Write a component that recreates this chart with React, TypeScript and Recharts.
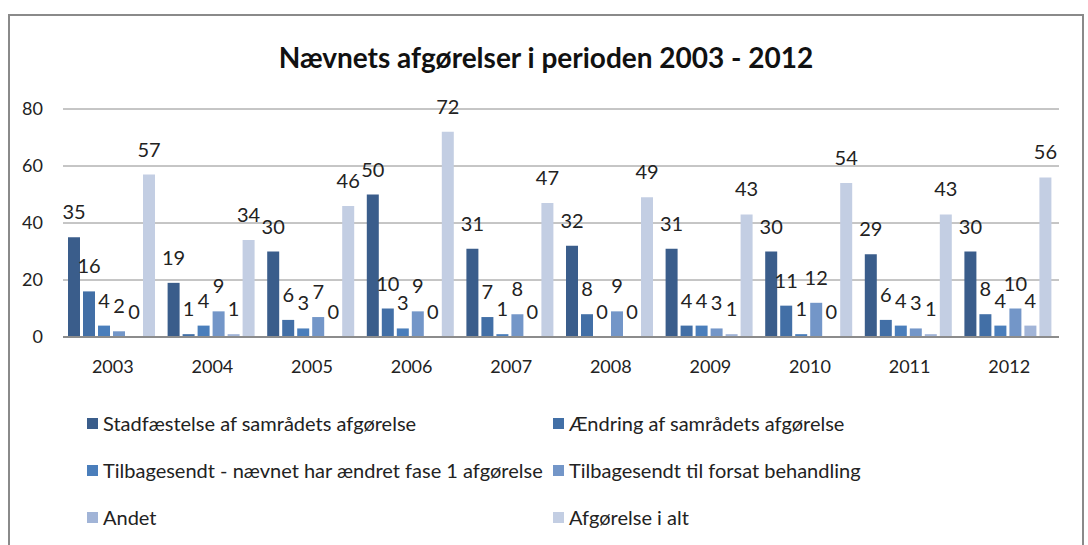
import React from "react";
import { Bar, BarChart, CartesianGrid, LabelList, XAxis, YAxis } from "recharts";

const years = ["2003", "2004", "2005", "2006", "2007", "2008", "2009", "2010", "2011", "2012"];

const stadfaestelse = [35, 19, 30, 50, 31, 32, 31, 30, 29, 30];
const aendring = [16, 1, 6, 10, 7, 8, 4, 11, 6, 8];
const tilbageFase1 = [4, 4, 3, 3, 1, 0, 4, 1, 4, 4];
const tilbageForsat = [2, 9, 7, 9, 8, 9, 3, 12, 3, 10];
const andet = [0, 1, 0, 0, 0, 0, 1, 0, 1, 4];
const iAlt = [57, 34, 46, 72, 47, 49, 43, 54, 43, 56];

const yTicks = [0, 20, 40, 60, 80];

const series = [
  { key: "s1", name: "Stadfæstelse af samrådets afgørelse", color: "#3a5d8b", values: stadfaestelse },
  { key: "s2", name: "Ændring af samrådets afgørelse", color: "#426fa6", values: aendring },
  { key: "s3", name: "Tilbagesendt - nævnet har ændret fase 1 afgørelse", color: "#4a7ebb", values: tilbageFase1 },
  { key: "s4", name: "Tilbagesendt til forsat behandling", color: "#7396c8", values: tilbageForsat },
  { key: "s5", name: "Andet", color: "#a1b4d7", values: andet },
  { key: "s6", name: "Afgørelse i alt", color: "#c3cee3", values: iAlt },
];

const data = years.map((year, i) => {
  const row: any = { year };
  series.forEach((s) => {
    row[s.key] = s.values[i];
  });
  return row;
});

const font = "Lato, 'Open Sans', sans-serif";

// value label drawn above each bar, also for zero-height bars
const BarValue = (props: any) => {
  const { x, y, width, value } = props;
  if (value == null) return null;
  return (
    <text x={x + width / 2} y={y - 18} textAnchor="middle" fontFamily={font} fontSize={20} fill="#222">
      {value}
    </text>
  );
};

function LegendBox() {
  return (
    <div
      style={{
        position: "absolute",
        left: 77,
        top: 395,
        display: "grid",
        gridTemplateColumns: "466px 420px",
        rowGap: 23,
        fontFamily: font,
        fontSize: 20,
        color: "#222",
      }}
    >
      {series.map((s) => (
        <div key={s.key} style={{ display: "flex", alignItems: "center", height: 24 }}>
          <span style={{ display: "inline-block", width: 11, height: 11, background: s.color, marginRight: 5 }} />
          <span>{s.name}</span>
        </div>
      ))}
    </div>
  );
}

export default function App() {
  return (
    <div
      style={{
        position: "absolute",
        left: 8,
        top: 14,
        width: 1072,
        height: 545,
        border: "2px solid #8a8a8a",
        background: "#fff",
      }}
    >
      <div
        style={{
          position: "absolute",
          left: 0,
          width: "100%",
          top: 24,
          textAlign: "center",
          fontFamily: font,
          fontWeight: 700,
          fontSize: 28,
          color: "#111",
        }}
      >
        Nævnets afgørelser i perioden 2003 - 2012
      </div>
      <BarChart
        width={1072}
        height={530}
        data={data}
        margin={{ top: 93, right: 23, left: 0, bottom: 169 }}
        barCategoryGap={5}
        barGap={3}
      >
        <CartesianGrid vertical={false} stroke="#8c8c8c" strokeWidth={1} />
        <XAxis
          dataKey="year"
          height={40}
          tickSize={0}
          tickMargin={23}
          axisLine={{ stroke: "#8c8c8c", strokeWidth: 2 }}
          tick={{ fontFamily: font, fontSize: 18, fill: "#222" }}
        />
        <YAxis
          width={53}
          domain={[0, 80]}
          ticks={yTicks}
          tickSize={0}
          tickMargin={20}
          axisLine={false}
          tick={{ fontFamily: font, fontSize: 18, fill: "#222" }}
        />
        {series.map((s) => (
          <Bar
            key={s.key}
            dataKey={s.key}
            name={s.name}
            fill={s.color}
            minPointSize={(v: any) => (v === 0 ? 0.01 : 0)}
            isAnimationActive={false}
          >
            <LabelList dataKey={s.key} content={BarValue} />
          </Bar>
        ))}
      </BarChart>
      <LegendBox />
    </div>
  );
}
